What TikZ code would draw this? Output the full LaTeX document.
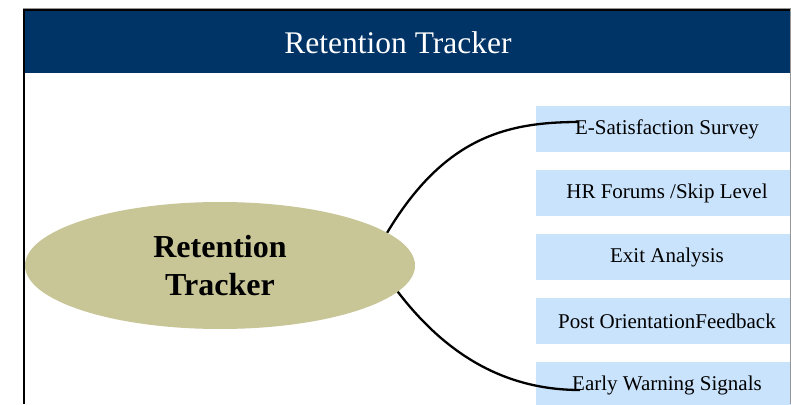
\documentclass[tikz,border=0pt]{standalone}
\usepackage{fontspec}
\setmainfont{Liberation Serif}
\usetikzlibrary{shapes.geometric}
\definecolor{navy}{RGB}{0,51,102}
\definecolor{olive}{RGB}{200,197,151}
\definecolor{lightblue}{RGB}{201,227,252}
\definecolor{edgegray}{RGB}{150,150,150}
\newcommand{\boxtext}[1]{\raisebox{-1.5pt}{#1}}
\tikzset{
  itembox/.style={fill=lightblue, minimum width=262pt, minimum height=46pt, inner sep=0pt, anchor=center, font=\fontsize{21}{24}\selectfont},
  hub/.style={ellipse, fill=olive, minimum width=390pt, minimum height=127pt, inner sep=0pt, align=center, font=\fontsize{32}{38}\selectfont\bfseries},
  bracketline/.style={line width=2.3pt, black}
}
\begin{document}
\begin{tikzpicture}[x=1pt,y=1pt]
\useasboundingbox (0,0) rectangle (791,404);
\fill[white] (0,0) rectangle (791,404);
% header
\fill[navy] (25,331) rectangle (790,393);
\node[text=white, font=\fontsize{31.5}{36}\selectfont] (title) at (398,361) {Retention Tracker};
% boxes
\node[itembox] (b1) at (667,275) {\boxtext{E-Satisfaction Survey}};
\node[itembox] (b2) at (667,211) {\boxtext{HR Forums /Skip Level}};
\node[itembox] (b3) at (667,147) {\boxtext{Exit Analysis}};
\node[itembox] (b4) at (667,83) {\boxtext{Post OrientationFeedback}};
\node[itembox] (b5) at (667,19) {\boxtext{Early Warning Signals}};
% bracket curves
\coordinate (arcTopStart) at (384,166);
\coordinate (arcTop) at (579,282);
\coordinate (arcBotStart) at (392,120);
\coordinate (arcBot) at (580,14);
\draw[bracketline] (arcTopStart) .. controls (442,266) and (505,282) .. (arcTop);
\draw[bracketline] (arcBotStart) .. controls (440,54) and (500,14) .. (arcBot);
% hub
\node[hub] (hub) at (220,138.5) {Retention\\Tracker};
% frame
\draw[edgegray, line width=0.8pt] (23,396) -- (790.5,396) -- (790.5,0);
\draw[black, line width=2pt] (24,0) -- (24,394) -- (790,394);
\end{tikzpicture}
\end{document}
